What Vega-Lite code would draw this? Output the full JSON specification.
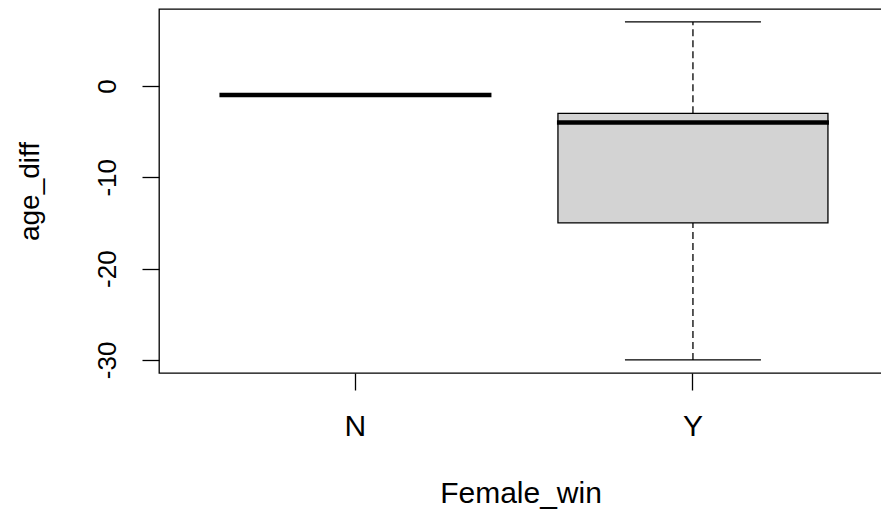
{
  "$schema": "https://vega.github.io/schema/vega-lite/v6.json",
  "autosize": {"type": "none"},
  "padding": {"left": 159, "top": 9, "right": 0, "bottom": 139},
  "width": 723,
  "height": 364,
  "background": "white",
  "config": {
    "view": {"stroke": "black", "strokeWidth": 1.3},
    "font": "Liberation Sans"
  },
  "data": {
    "values": [
      {"Female_win": "N", "lower": -1, "q1": -1, "median": -1, "q3": -1, "upper": -1},
      {"Female_win": "Y", "lower": -30, "q1": -15, "median": -4, "q3": -3, "upper": 7}
    ]
  },
  "encoding": {
    "x": {
      "field": "Female_win",
      "type": "nominal",
      "scale": {"paddingInner": 0.2, "paddingOuter": 0.1711, "align": 0.532},
      "axis": {
        "title": "Female_win",
        "domain": false,
        "grid": false,
        "labelAngle": 0,
        "labelFontSize": 30,
        "labelColor": "black",
        "labelBaseline": "alphabetic",
        "labelPadding": 45,
        "tickSize": 17,
        "tickColor": "black",
        "tickWidth": 1.3,
        "titleFontSize": 30,
        "titleFontWeight": "normal",
        "titleColor": "black",
        "titleBaseline": "alphabetic",
        "titleY": 129
      }
    }
  },
  "layer": [
    {
      "mark": {"type": "rule", "strokeDash": [7, 4], "strokeWidth": 1.3, "color": "black"},
      "encoding": {
        "y": {
          "field": "lower",
          "type": "quantitative",
          "scale": {"domain": [-31.43, 8.42], "nice": false, "zero": false},
          "axis": {
            "title": "age_diff",
            "values": [-30, -20, -10, 0],
            "labelExpr": "'' + datum.value",
            "domain": false,
            "grid": false,
            "labelAngle": 270,
            "labelAlign": "center",
            "labelBaseline": "alphabetic",
            "labelFontSize": 26,
            "labelColor": "black",
            "labelPadding": 27,
            "labelFlush": false,
            "labelOverlap": false,
            "tickSize": 17,
            "tickColor": "black",
            "tickWidth": 1.3,
            "titleFontSize": 28,
            "titleFontWeight": "normal",
            "titleColor": "black",
            "titleAngle": 270,
            "titleAlign": "center",
            "titleBaseline": "alphabetic",
            "titleX": -121,
            "titleY": 182
          }
        },
        "y2": {"field": "q1"}
      }
    },
    {
      "mark": {"type": "rule", "strokeDash": [7, 4], "strokeWidth": 1.3, "color": "black"},
      "encoding": {
        "y": {"field": "q3", "type": "quantitative"},
        "y2": {"field": "upper"}
      }
    },
    {
      "mark": {"type": "tick", "orient": "horizontal", "size": 136, "thickness": 1.3, "color": "black", "opacity": 1},
      "encoding": {"y": {"field": "lower", "type": "quantitative"}}
    },
    {
      "mark": {"type": "tick", "orient": "horizontal", "size": 136, "thickness": 1.3, "color": "black", "opacity": 1},
      "encoding": {"y": {"field": "upper", "type": "quantitative"}}
    },
    {
      "mark": {"type": "bar", "fill": "#d3d3d3", "stroke": "black", "strokeWidth": 1.3, "opacity": 1},
      "encoding": {
        "y": {"field": "q1", "type": "quantitative"},
        "y2": {"field": "q3"}
      }
    },
    {
      "mark": {"type": "tick", "orient": "horizontal", "size": 272, "thickness": 4.5, "color": "black", "opacity": 1},
      "encoding": {"y": {"field": "median", "type": "quantitative"}}
    }
  ]
}
